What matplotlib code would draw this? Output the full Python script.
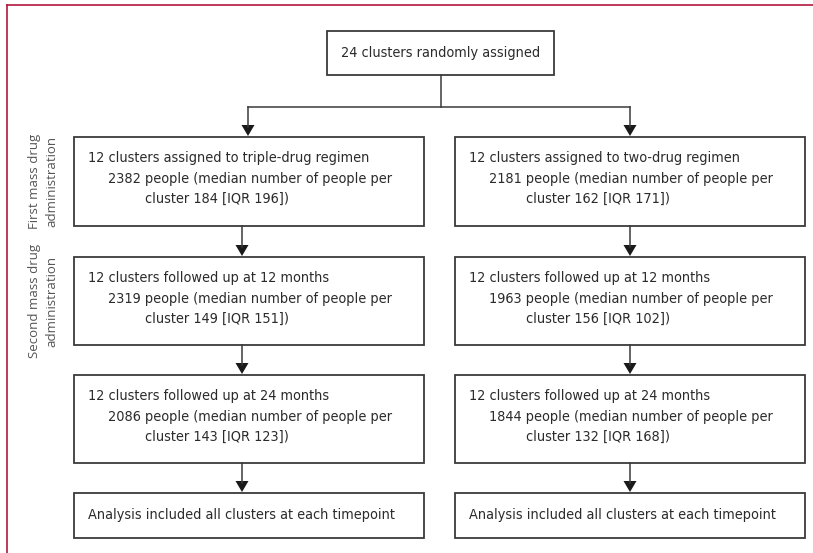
import matplotlib.pyplot as plt
from matplotlib.patches import Rectangle, Polygon

# box texts, one list of lines per box
top_text = "24 clusters randomly assigned"
triple_arm = [
    ["12 clusters assigned to triple-drug regimen",
     "2382 people (median number of people per",
     "cluster 184 [IQR 196])"],
    ["12 clusters followed up at 12 months",
     "2319 people (median number of people per",
     "cluster 149 [IQR 151])"],
    ["12 clusters followed up at 24 months",
     "2086 people (median number of people per",
     "cluster 143 [IQR 123])"],
    ["Analysis included all clusters at each timepoint"],
]
two_drug_arm = [
    ["12 clusters assigned to two-drug regimen",
     "2181 people (median number of people per",
     "cluster 162 [IQR 171])"],
    ["12 clusters followed up at 12 months",
     "1963 people (median number of people per",
     "cluster 156 [IQR 102])"],
    ["12 clusters followed up at 24 months",
     "1844 people (median number of people per",
     "cluster 132 [IQR 168])"],
    ["Analysis included all clusters at each timepoint"],
]
side_labels = ["First mass drug\nadministration", "Second mass drug\nadministration"]

# layout in pixels (y grows downward)
W, H = 813, 553
rows = [(137, 226), (257, 345), (375, 463), (493, 538)]
cols = [(74, 424), (455, 805)]
indents = [0, 20, 57]
line_dy = 20.5
edge = '#3a3a3a'
txt = '#2b2b2b'
font = dict(family='DejaVu Sans', fontstretch='condensed', fontsize=10.4)

fig = plt.figure(figsize=(W / 100, H / 100), dpi=100)
ax = fig.add_axes([0, 0, 1, 1])
ax.set_xlim(0, W)
ax.set_ylim(H, 0)
ax.axis('off')

# crimson page frame
ax.plot([7, W], [5, 5], color='#b3173f', lw=1.2)
ax.plot([7, 7], [5, H], color='#b3173f', lw=1.2)


def box(x0, x1, y0, y1):
    ax.add_patch(Rectangle((x0, y0), x1 - x0, y1 - y0, fill=False,
                           edgecolor=edge, lw=1.3))


def arrow(x, y0, y1):
    ax.plot([x, x], [y0, y1 - 10], color=edge, lw=1.1)
    ax.add_patch(Polygon([(x - 6.5, y1 - 12), (x + 6.5, y1 - 12), (x, y1 - 1)],
                         closed=True, color='#1a1a1a', lw=0))


# top box and split
box(327, 554, 31, 75)
ax.text(440.5, 53, top_text, ha='center', va='center', color=txt, **font)
ax.plot([440.5, 440.5], [75, 107], color=edge, lw=1.1)
ax.plot([248, 630], [107, 107], color=edge, lw=1.1)
arrow(248, 107, rows[0][0])
arrow(630, 107, rows[0][0])

arrow_x = [242, 630]
for (x0, x1), arm, ax_x in zip(cols, [triple_arm, two_drug_arm], arrow_x):
    for i, ((y0, y1), lines) in enumerate(zip(rows, arm)):
        box(x0, x1, y0, y1)
        if len(lines) == 1:
            ax.text(x0 + 14, (y0 + y1) / 2, lines[0], ha='left', va='center',
                    color=txt, **font)
        else:
            for j, line in enumerate(lines):
                ax.text(x0 + 14 + indents[j], y0 + 21 + j * line_dy, line,
                        ha='left', va='center', color=txt, **font)
        if i > 0:
            arrow(ax_x, rows[i - 1][1], y0)

# side labels for the two rounds of treatment
for label, (y0, y1) in zip(side_labels, rows[:2]):
    ax.text(43, (y0 + y1) / 2, label, rotation=90, ha='center', va='center',
            fontsize=9.5, color='#555555', family=['Open Sans', 'DejaVu Sans'],
            linespacing=1.45)

fig.savefig('out.png', dpi=100)
